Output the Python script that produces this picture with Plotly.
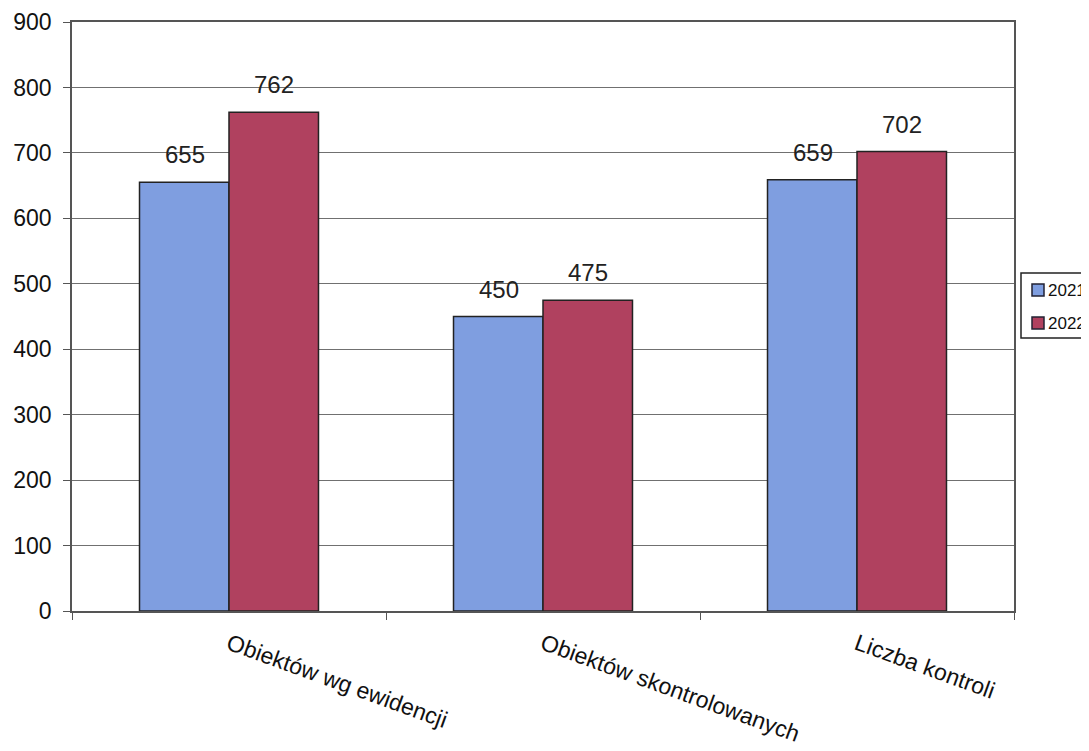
import plotly.graph_objects as go

categories = ["Obiektów wg ewidencji", "Obiektów skontrolowanych", "Liczba kontroli"]
years = ["2021", "2022"]
values_2021 = [655, 450, 659]
values_2022 = [762, 475, 702]
y_ticks = [0, 100, 200, 300, 400, 500, 600, 700, 800, 900]

colors = {"2021": "#7f9ee0", "2022": "#b0415f"}
series = {"2021": values_2021, "2022": values_2022}

FONT = "Liberation Sans, Arial, sans-serif"

W, H = 1081, 743
ML, MR, MT, MB = 64, 75, 14, 140
PW, PH = W - ML - MR, H - MT - MB


def px_x(fx):
    return (fx - ML) / PW


def px_y(fy):
    return (H - MB - fy) / PH


fig = go.Figure()
for yr in years:
    fig.add_trace(go.Bar(
        x=categories, y=series[yr], name=yr,
        marker=dict(color=colors[yr], line=dict(color="#222222", width=1.5)),
    ))

# data labels above bars
bar_px = 89
for i, cat in enumerate(categories):
    for j, yr in enumerate(years):
        fig.add_annotation(
            x=cat, y=series[yr][i], text=str(series[yr][i]),
            xref="x", yref="y", showarrow=False,
            xshift=(-0.5 if j == 0 else 0.5) * bar_px,
            yanchor="bottom", yshift=12,
            font=dict(family=FONT, size=24, color="#222222"),
        )

# legend box (drawn manually to match the original layout)
box_l, box_t, box_r, box_b = 1013, 265, 1100, 330
fig.add_shape(type="rect", xref="paper", yref="paper",
              x0=px_x(box_l), x1=px_x(box_r), y0=px_y(box_b), y1=px_y(box_t),
              line=dict(color="#222222", width=1.5), fillcolor="white", layer="above")
for k, yr in enumerate(years):
    cy = 282 + 33 * k
    fig.add_shape(type="rect", xref="paper", yref="paper",
                  x0=px_x(1024), x1=px_x(1036), y0=px_y(cy + 6), y1=px_y(cy - 6),
                  line=dict(color="#222233", width=1.5), fillcolor=colors[yr], layer="above")
    fig.add_annotation(x=px_x(1038), y=px_y(cy), xref="paper", yref="paper",
                       text=yr, showarrow=False, xanchor="left", yanchor="middle",
                       font=dict(family=FONT, size=17, color="#111111"))

fig.update_layout(
    width=W, height=H,
    margin=dict(l=ML, r=MR, t=MT, b=MB, autoexpand=False),
    paper_bgcolor="white", plot_bgcolor="white",
    barmode="group", bargap=0.43, bargroupgap=0,
    font=dict(family=FONT, color="#111111"),
    showlegend=False,
)
fig.update_xaxes(
    type="category", tickson="boundaries", ticks="outside", ticklen=7,
    tickcolor="#555555", tickangle=20, ticklabelstandoff=9,
    showline=True, linecolor="#555555", linewidth=1.5, mirror=True,
    showgrid=False, automargin=False,
    tickfont=dict(family=FONT, size=23, color="#111111"),
)
fig.update_yaxes(
    range=[0, 900], tickvals=y_ticks, ticks="outside", ticklen=7,
    tickcolor="#555555", ticklabelstandoff=7,
    showline=True, linecolor="#555555", linewidth=1.5, mirror=True,
    showgrid=True, gridcolor="#707070", gridwidth=1,
    zeroline=False, automargin=False,
    tickfont=dict(family=FONT, size=23, color="#111111"),
)

fig.write_html("out.html")
